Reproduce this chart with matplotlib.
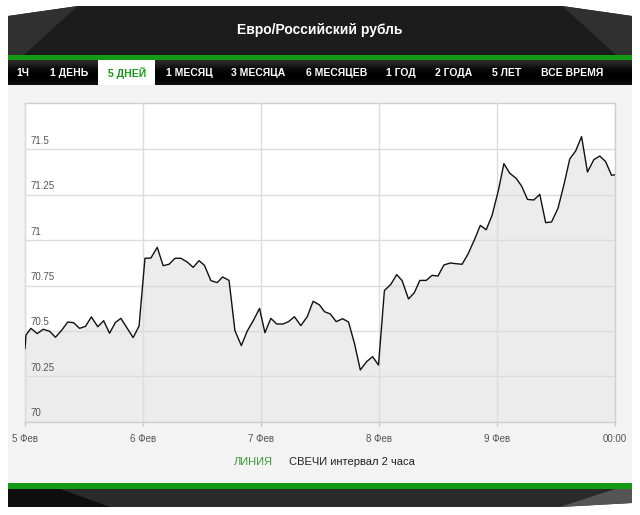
import matplotlib
matplotlib.use("Agg")
import matplotlib.pyplot as plt
import matplotlib.transforms as mtransforms
from matplotlib.patches import Polygon, Rectangle
import numpy as np

plt.rcParams["font.family"] = ["Liberation Sans", "DejaVu Sans"]

TITLE = "Евро/Российский рубль"
TABS = ["1Ч", "1 ДЕНЬ", "5 ДНЕЙ", "1 МЕСЯЦ", "3 МЕСЯЦА", "6 МЕСЯЦЕВ",
        "1 ГОД", "2 ГОДА", "5 ЛЕТ", "ВСЕ ВРЕМЯ"]
ACTIVE_TAB = "5 ДНЕЙ"

# hours since 5 Feb 00:00 and EUR/RUB rate
HOURS = [0.0, 0.2, 1.2, 2.5, 3.7, 5.0, 6.2, 7.5, 8.7, 9.9,
         11.1, 12.3, 13.5, 14.8, 16.0, 17.2, 18.4, 19.5, 20.8, 22.0,
         23.2, 24.4, 25.6, 26.9, 28.1, 29.3, 30.5, 31.7, 33.0, 34.2,
         35.4, 36.5, 37.8, 39.1, 40.2, 41.5, 42.7, 44.0, 45.2, 46.5,
         47.7, 48.8, 50.0, 51.2, 52.5, 53.6, 54.8, 56.1, 57.4, 58.6,
         59.9, 60.9, 62.1, 63.3, 64.6, 65.8, 67.0, 68.2, 69.5, 70.7,
         71.9, 73.1, 74.4, 75.6, 76.7, 78.0, 79.2, 80.3, 81.6, 82.8,
         84.0, 85.2, 86.5, 87.7, 88.9, 90.1, 91.4, 92.6, 93.8, 95.0,
         96.3, 97.4, 98.6, 99.9, 101.0, 102.2, 103.5, 104.7, 105.9, 107.1,
         108.4, 109.6, 110.8, 112.0, 113.2, 114.4, 115.7, 116.9, 118.1, 119.3,
         120.0]
RATE = [70.404, 70.477, 70.514, 70.485, 70.509, 70.498, 70.465, 70.505, 70.549, 70.545,
        70.514, 70.525, 70.577, 70.523, 70.556, 70.487, 70.547, 70.569, 70.514, 70.463,
        70.527, 70.900, 70.901, 70.960, 70.859, 70.867, 70.900, 70.900, 70.879, 70.850,
        70.887, 70.861, 70.777, 70.766, 70.797, 70.778, 70.501, 70.419, 70.499, 70.560,
        70.624, 70.490, 70.569, 70.538, 70.538, 70.551, 70.578, 70.529, 70.578, 70.663,
        70.643, 70.606, 70.593, 70.551, 70.567, 70.549, 70.432, 70.285, 70.331, 70.358,
        70.312, 70.722, 70.756, 70.810, 70.777, 70.676, 70.711, 70.778, 70.778, 70.806,
        70.802, 70.863, 70.874, 70.870, 70.867, 70.923, 71.001, 71.081, 71.057, 71.136,
        71.276, 71.421, 71.368, 71.340, 71.298, 71.224, 71.221, 71.252, 71.096, 71.100,
        71.175, 71.303, 71.447, 71.491, 71.570, 71.375, 71.443, 71.463, 71.432, 71.357,
        71.360]

X_TICKS = [0, 24, 48, 72, 96, 120]
X_LABELS = ["5 Фев", "6 Фев", "7 Фев", "8 Фев", "9 Фев", "00:00"]
Y_TICKS = [70, 70.25, 70.5, 70.75, 71, 71.25, 71.5]
Y_LABELS = ["70", "70.25", "70.5", "70.75", "71", "71.25", "71.5"]

GREEN = "#159a15"
W, H = 640, 515


def main():
    fig = plt.figure(figsize=(W / 100, H / 100), dpi=100)
    fig.patch.set_facecolor("white")

    # background decoration in pixel coords
    bg = fig.add_axes([0, 0, 1, 1], zorder=0)
    bg.set_xlim(0, W)
    bg.set_ylim(H, 0)
    bg.axis("off")

    # header
    bg.add_patch(Polygon([(8, 16), (78, 6), (562, 6), (632, 16), (632, 56), (8, 56)],
                         closed=True, fc="#1c1c1c", ec="none"))
    bg.add_patch(Polygon([(8, 16), (78, 6), (60, 22), (24, 55), (8, 55)],
                         closed=True, fc="#303030", ec="none"))
    bg.add_patch(Polygon([(632, 16), (562, 6), (580, 22), (616, 55), (632, 55)],
                         closed=True, fc="#303030", ec="none"))
    bg.text(320, 30, TITLE, color="white", fontsize=10, fontweight="bold",
            ha="center", va="center")
    bg.add_patch(Rectangle((8, 55), 624, 5, fc=GREEN, ec="none"))

    # tab bar with glossy gradient
    grad = np.array([0.16, 0.12, 0.06, 0.02, 0.0, 0.0, 0.02, 0.06]).reshape(-1, 1)
    bg.imshow(grad, cmap="gray", vmin=0, vmax=1, aspect="auto",
              extent=(8, 632, 85, 60), interpolation="bilinear", zorder=1)
    tab_x = [23, 69, 127, 189, 258, 337, 401, 454, 507, 572]
    bg.add_patch(Rectangle((98, 60), 57, 25, fc="white", ec="none", zorder=2))
    for label, x in zip(TABS, tab_x):
        bg.text(x, 73, label, color=GREEN if label == ACTIVE_TAB else "white",
                fontsize=7.5, fontweight="bold", ha="center", va="center", zorder=3)

    # panel
    bg.add_patch(Rectangle((8, 85), 624, 398, fc="#f3f3f3", ec="none"))

    # footer
    bg.add_patch(Rectangle((8, 483), 624, 6, fc=GREEN, ec="none"))
    bg.add_patch(Polygon([(8, 489), (632, 489), (632, 503), (560, 507), (8, 507)],
                         closed=True, fc="#2a2a2a", ec="none"))
    bg.add_patch(Polygon([(8, 489), (60, 489), (110, 507), (8, 507)],
                         closed=True, fc="#0e0e0e", ec="none"))
    bg.add_patch(Polygon([(560, 507), (615, 489), (632, 489), (632, 503)],
                         closed=True, fc="#555555", ec="none"))
    bg.text(273, 462, "ЛИНИЯ", color="#3a9a3a", fontsize=8, ha="right", va="center")
    bg.text(289, 462, "СВЕЧИ интервал 2 часа", color="#222222", fontsize=8,
            ha="left", va="center")

    # chart
    left, right, top, bottom = 25, 615, 103, 421.7
    ax = fig.add_axes([left / W, 1 - bottom / H, (right - left) / W, (bottom - top) / H],
                      zorder=1)
    ax.set_facecolor("white")
    ax.fill_between(HOURS, RATE, 69.0, color="#ececec", lw=0, zorder=1)
    ax.plot(HOURS, RATE, color="#111111", lw=1.0, zorder=3)

    ax.set_xlim(0, 120)
    ax.set_ylim(70, 71.755)
    ax.set_xticks(X_TICKS)
    ax.set_xticklabels(X_LABELS)
    ax.set_yticks(Y_TICKS)
    ax.set_yticklabels(Y_LABELS)
    ax.grid(True, color="#dcdcdc", lw=1.0, zorder=2)
    ax.set_axisbelow(False)
    for sp in ax.spines.values():
        sp.set_color("#cfcfcf")
        sp.set_linewidth(1.0)

    ax.tick_params(axis="x", length=3, width=1, color="#c8c8c8", pad=6,
                   labelsize=7, labelcolor="#555555")
    ax.tick_params(axis="y", length=0, pad=-3.6, labelsize=7, labelcolor="#555555")
    off = mtransforms.ScaledTranslation(0, 2.5 / 72, fig.dpi_scale_trans)
    for lab in ax.get_yticklabels():
        lab.set_ha("left")
        lab.set_va("bottom")
        lab.set_transform(lab.get_transform() + off)
        lab.set_zorder(4)

    fig.savefig("out.png", dpi=100)
    plt.close(fig)


if __name__ == "__main__":
    main()
